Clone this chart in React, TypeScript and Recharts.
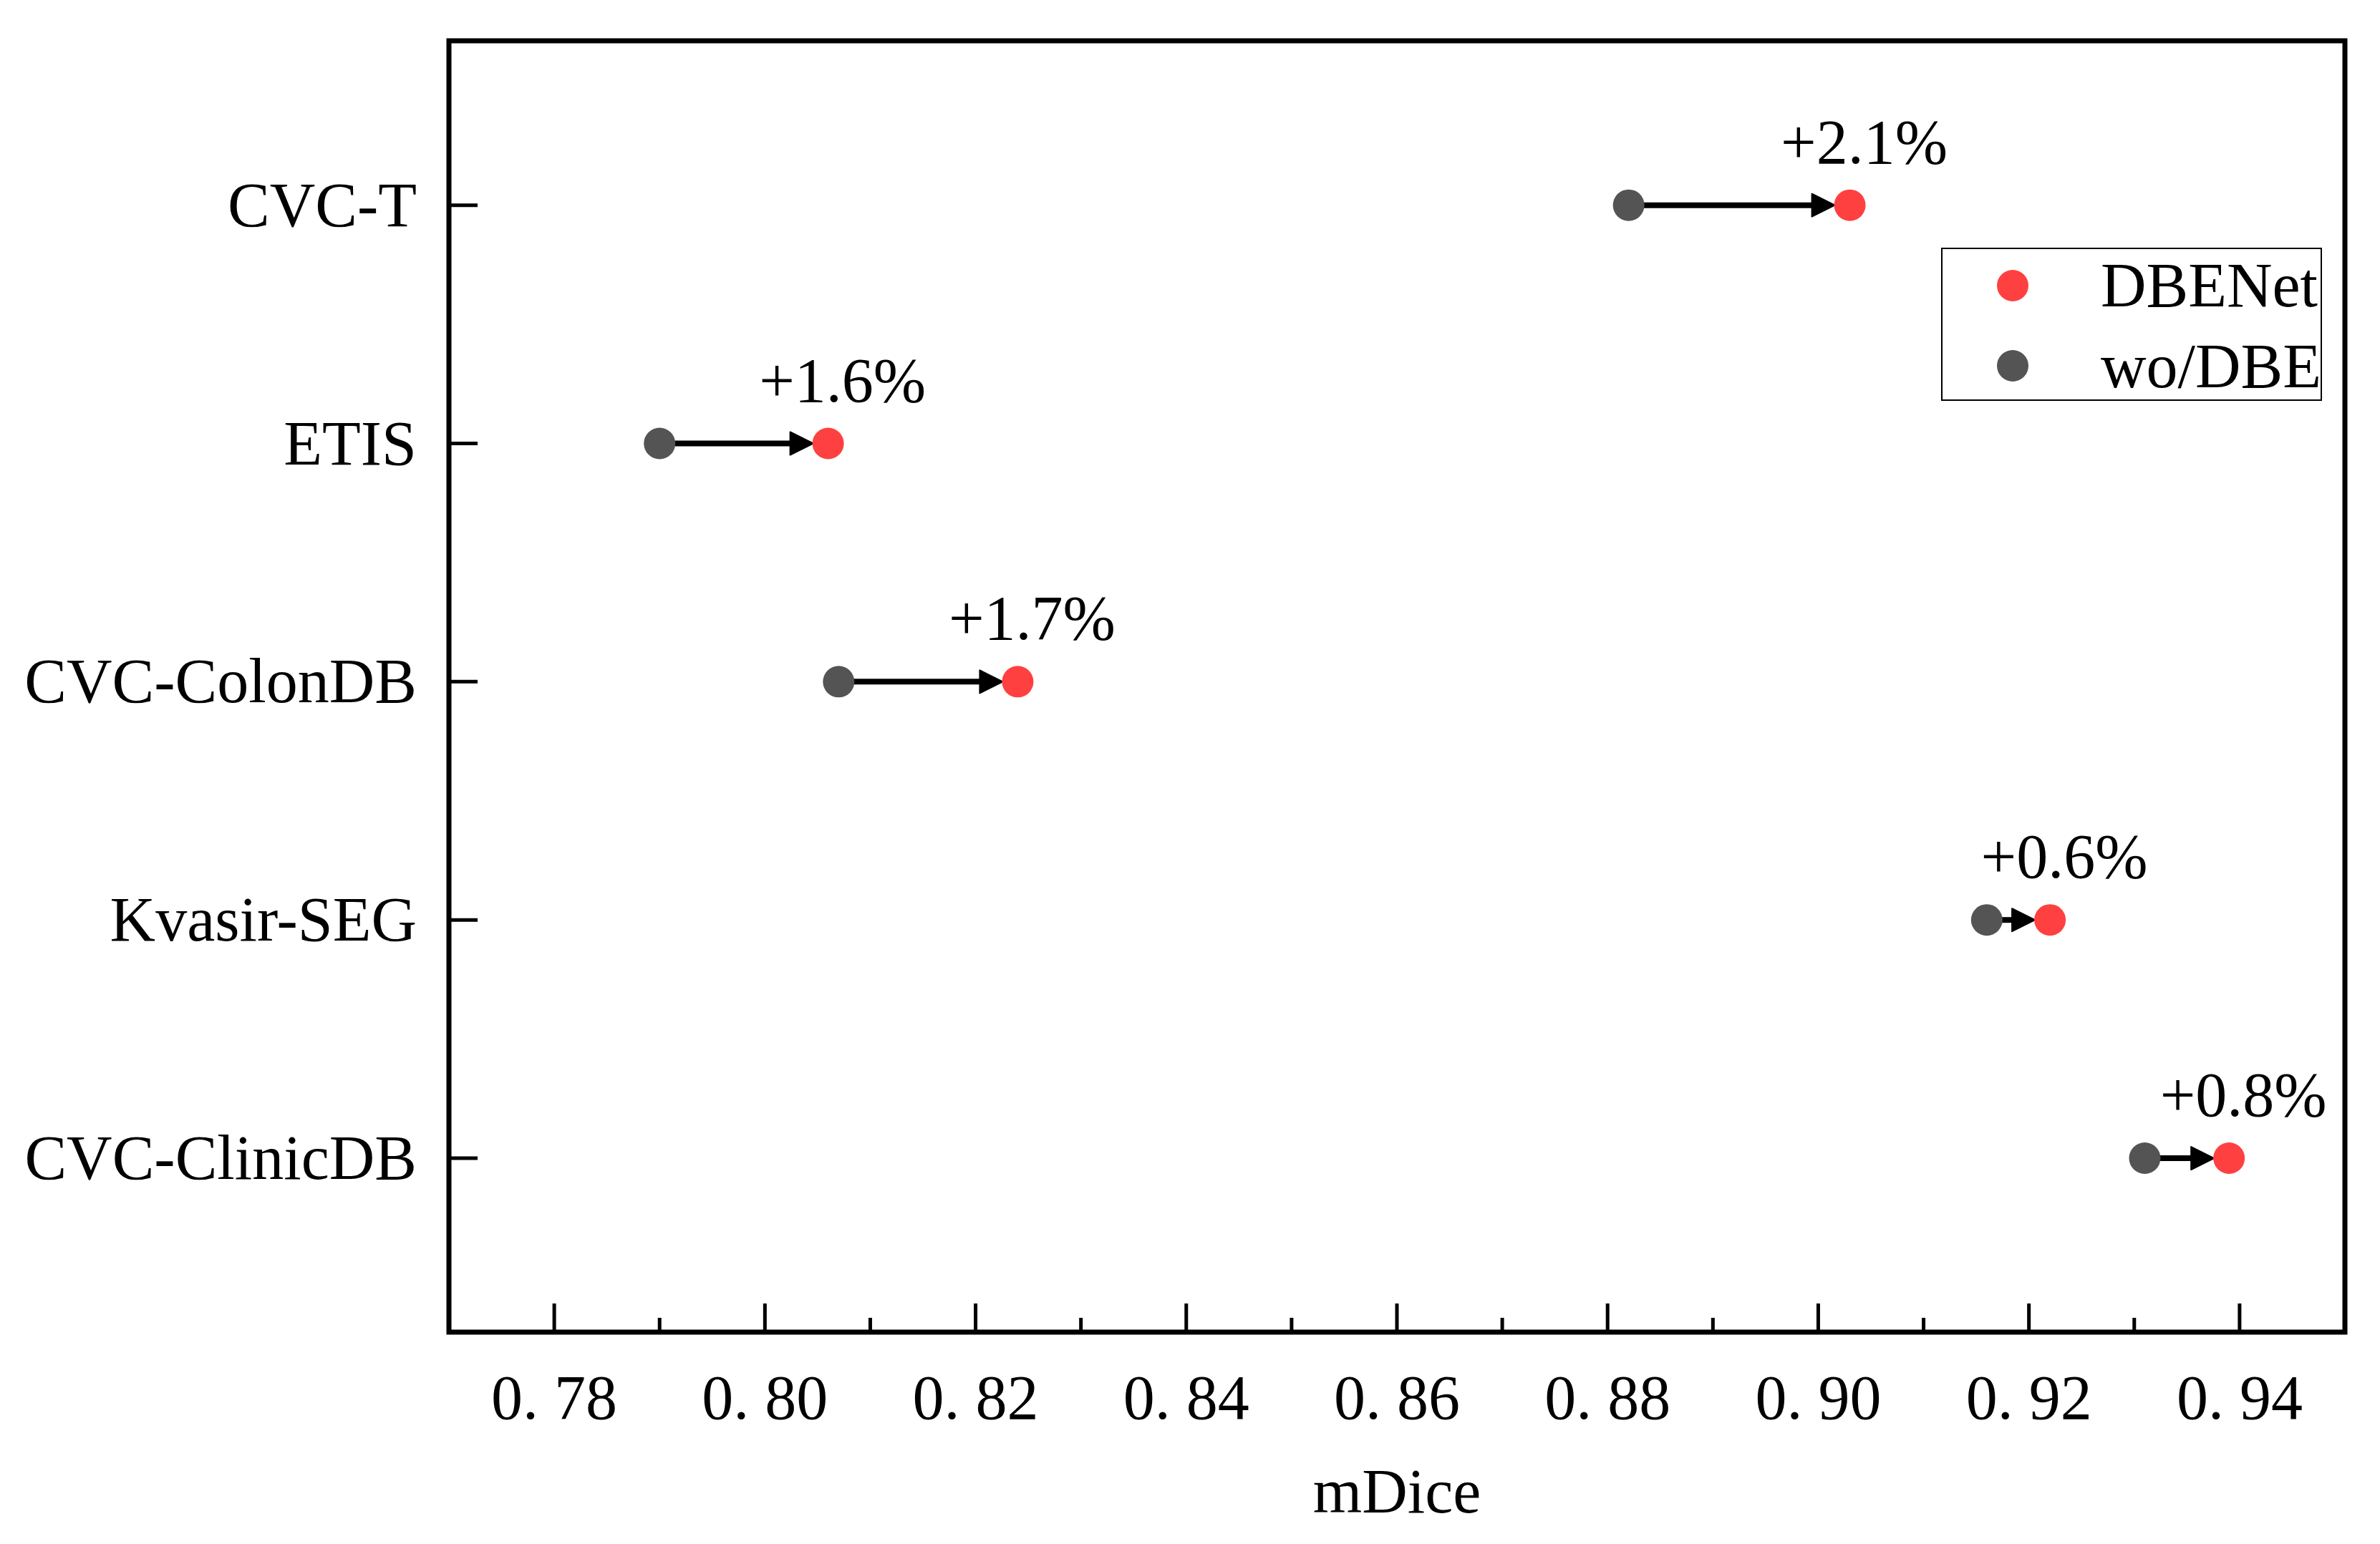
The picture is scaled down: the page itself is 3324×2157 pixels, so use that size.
import React from 'react';
import { ScatterChart, Scatter, XAxis, YAxis, ReferenceLine, ReferenceArea, Legend } from 'recharts';

const categories = ['CVC-T', 'ETIS', 'CVC-ColonDB', 'Kvasir-SEG', 'CVC-ClinicDB'];
const woDBE = [0.882, 0.790, 0.807, 0.916, 0.931];
const dbeNet = [0.903, 0.806, 0.824, 0.922, 0.939];
const gainLabels = ['+2.1%', '+1.6%', '+1.7%', '+0.6%', '+0.8%'];
const xTicks = [0.78, 0.79, 0.80, 0.81, 0.82, 0.83, 0.84, 0.85, 0.86, 0.87, 0.88, 0.89, 0.90, 0.91, 0.92, 0.93, 0.94];
const yTicks = [0, 1, 2, 3, 4];

const RED = '#FF4040';
const GREY = '#545454';
const FONT = '"Liberation Serif", "Times New Roman", serif';
const FS = 88;
const R = 22;

const woData = categories.map((c, i) => ({ x: woDBE[i], y: i, name: c }));
const dbeData = categories.map((c, i) => ({ x: dbeNet[i], y: i, name: c, label: gainLabels[i] }));

const XTick = (props: any) => {
  const { x, y, payload } = props;
  const v = payload.value as number;
  const major = Math.round(v * 100) % 2 === 0;
  return (
    <g>
      <line x1={x} x2={x} y1={y} y2={y - (major ? 40 : 20)} stroke="#000" strokeWidth={5} />
      {major && (
        <text x={x} y={y + 121} textAnchor="middle" fontFamily={FONT} fontSize={FS} fill="#000">
          {v.toFixed(2).replace('.', '. ')}
        </text>
      )}
    </g>
  );
};

const YTick = (props: any) => {
  const { x, y, payload } = props;
  return (
    <g>
      <line x1={x} x2={x + 40} y1={y} y2={y} stroke="#000" strokeWidth={5} />
      <text x={x - 45} y={y + 29} textAnchor="end" fontFamily={FONT} fontSize={FS} fill="#000">
        {categories[payload.value]}
      </text>
    </g>
  );
};

const GreyDot = (props: any) => <circle cx={props.cx} cy={props.cy} r={R} fill={GREY} />;
const RedDot = (props: any) => (
  <g>
    <circle cx={props.cx} cy={props.cy} r={R} fill={RED} />
    <text x={props.cx + 20} y={props.cy - 59} textAnchor="middle" fontFamily={FONT} fontSize={FS} fill="#000">
      {props.payload?.label}
    </text>
  </g>
);

const Arrow = (p: any) => {
  const { x1, y1, x2 } = p;
  const head = 32;
  const half = 16;
  const start = x1 + R - 2;
  const tip = x2 - R + 1;
  const base = tip - head;
  return (
    <g>
      <line x1={start} x2={base + 2} y1={y1} y2={y1} stroke="#000" strokeWidth={8} />
      <polygon points={`${base},${y1 - half} ${tip},${y1} ${base},${y1 + half}`} fill="#000" strokeLinejoin="round" stroke="#000" strokeWidth={2} />
    </g>
  );
};

const LegendBox = (props: any) => {
  const payload = props.payload || [];
  const order = ['DBENet', 'wo/DBE'];
  const items = order.map((n) => payload.find((e: any) => e.value === n)).filter(Boolean);
  return (
    <svg width={532} height={214} style={{ display: 'block' }}>
      <rect x={1} y={1} width={530} height={212} fill="#fff" stroke="#000" strokeWidth={2} />
      {items.map((e: any, i: number) => (
        <g key={e.value}>
          <circle cx={100} cy={53 + i * 112} r={R} fill={e.color} />
          <text x={223} y={82 + i * 113} fontFamily={FONT} fontSize={FS} fill="#000">
            {e.value}
          </text>
        </g>
      ))}
    </svg>
  );
};

export default function App() {
  return (
    <ScatterChart width={3300} height={2140} margin={{ top: 49, right: 33, bottom: 0, left: 0 }}>
      <XAxis
        type="number"
        dataKey="x"
        domain={[0.77, 0.95]}
        ticks={xTicks}
        interval={0}
        height={287}
        axisLine={false}
        tickLine={false}
        tickSize={0}
        tickMargin={0}
        tick={<XTick />}
        allowDataOverflow
        label={(lp: any) => {
          const vb = lp.viewBox || {};
          return (
            <text x={vb.x + vb.width / 2} y={vb.y + 252} textAnchor="middle" fontFamily={FONT} fontSize={FS} fill="#000">
              mDice
            </text>
          );
        }}
      />
      <YAxis
        type="number"
        dataKey="y"
        reversed
        domain={[-0.69, 4.73]}
        ticks={yTicks}
        interval={0}
        width={619}
        axisLine={false}
        tickLine={false}
        tickSize={0}
        tickMargin={0}
        tick={<YTick />}
        allowDataOverflow
      />
      <ReferenceArea x1={0.77} x2={0.95} y1={-0.69} y2={4.73} fill="none" stroke="#000" strokeWidth={7} fillOpacity={0} />
      {categories.map((c, i) => (
        <ReferenceLine
          key={c}
          segment={[{ x: woDBE[i], y: i }, { x: dbeNet[i], y: i }]}
          shape={Arrow}
        />
      ))}
      <Scatter name="wo/DBE" data={woData} fill={GREY} shape={GreyDot} isAnimationActive={false} />
      <Scatter name="DBENet" data={dbeData} fill={RED} shape={RedDot} isAnimationActive={false} />
      <Legend
        layout="vertical"
        align="center"
        verticalAlign="middle"
        content={<LegendBox />}
        wrapperStyle={{ position: 'absolute', left: 2703, top: 338, width: 532, height: 214 }}
      />
    </ScatterChart>
  );
}
